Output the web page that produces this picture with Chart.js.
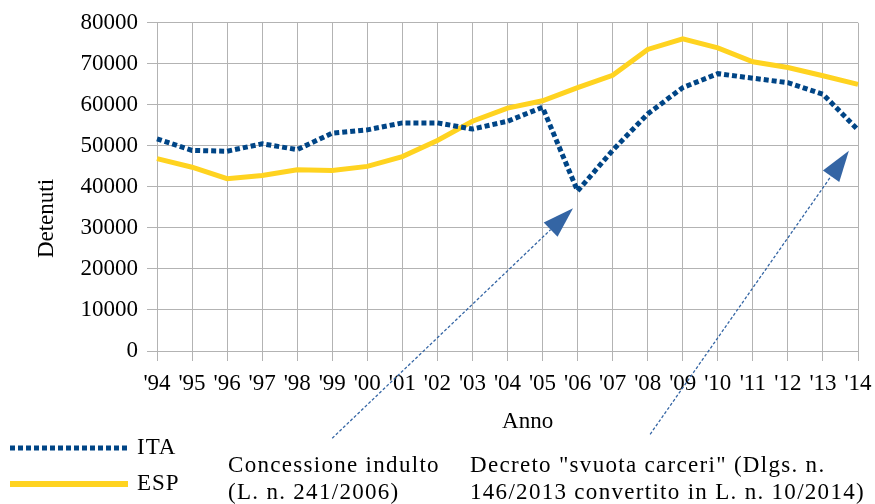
<!DOCTYPE html>
<html>
<head>
<meta charset="utf-8">
<script src="https://cdn.jsdelivr.net/npm/chart.js@4"></script>
<style>
  html, body { margin: 0; padding: 0; background: #fff; }
  #wrap { width: 875px; height: 504px; position: relative; }
</style>
</head>
<body>
<div id="wrap"><canvas id="myChart"></canvas></div>
<script>
const years = ["'94", "'95", "'96", "'97", "'98", "'99", "'00", "'01", "'02", "'03", "'04",
               "'05", "'06", "'07", "'08", "'09", "'10", "'11", "'12", "'13", "'14"];
const ita = [51700, 48900, 48700, 50500, 49100, 53100, 53900, 55600, 55600, 54100, 56000,
             59400, 39000, 48900, 57800, 64200, 67600, 66500, 65400, 62600, 53900];
const esp = [46900, 44800, 42000, 42800, 44200, 44000, 45000, 47400, 51300, 56000, 59200,
             61000, 64200, 67200, 73500, 76100, 73900, 70500, 69100, 67100, 65000];
const seriesNames = ["ITA", "ESP"];

// arrows: [x index, y value] for tail and tip
const arrowTails = [[5, -21250], [14.07, -20300]];
const arrowTips = [[11.87, 34800], [19.74, 48800]];
const noteLines = [
    ["Concessione indulto", "(L. n. 241/2006)"],
    ["Decreto \"svuota carceri\" (Dlgs. n.", "146/2013 convertito in L. n. 10/2014)"]
];

const serif = "'Liberation Serif', 'DejaVu Serif', serif";
const gridColor = "#b3b3b3";
const arrowColor = "#3465a4";
const nbsp = "\u00a0";

const extras = {
    id: "extras",
    afterDraw(chart) {
        const ctx = chart.ctx;
        const x = chart.scales.x, y = chart.scales.y;

        // annotation arrows
        ctx.save();
        for (let i = 0; i < arrowTails.length; i++) {
            const x0 = x.getPixelForValue(arrowTails[i][0]), y0 = y.getPixelForValue(arrowTails[i][1]);
            const x1 = x.getPixelForValue(arrowTips[i][0]), y1 = y.getPixelForValue(arrowTips[i][1]);
            const ang = Math.atan2(y1 - y0, x1 - x0);
            const len = 31, half = 10;
            const bx = x1 - Math.cos(ang) * len, by = y1 - Math.sin(ang) * len;
            ctx.strokeStyle = arrowColor;
            ctx.lineWidth = 1.3;
            ctx.setLineDash([3, 2]);
            ctx.beginPath();
            ctx.moveTo(x0, y0);
            ctx.lineTo(bx, by);
            ctx.stroke();
            ctx.setLineDash([]);
            ctx.fillStyle = arrowColor;
            ctx.beginPath();
            ctx.moveTo(x1, y1);
            ctx.lineTo(bx + Math.sin(ang) * half, by - Math.cos(ang) * half);
            ctx.lineTo(bx - Math.sin(ang) * half, by + Math.cos(ang) * half);
            ctx.closePath();
            ctx.fill();
        }

        // note texts
        ctx.fillStyle = "#000";
        ctx.font = "23px " + serif;
        ctx.letterSpacing = "1.3px";
        ctx.textAlign = "left";
        ctx.textBaseline = "middle";
        const noteX = [228, 470];
        noteLines.forEach((lines, i) => {
            lines.forEach((t, j) => ctx.fillText(t, noteX[i], 466 + j * 27));
        });

        // legend
        ctx.letterSpacing = "1px";
        chart.data.datasets.forEach((ds, i) => {
            const ly = 448 + i * 36;
            ctx.strokeStyle = ds.borderColor;
            ctx.lineWidth = ds.borderWidth + (i === 1 ? 1 : 0);
            ctx.setLineDash(ds.borderDash || []);
            ctx.lineCap = "butt";
            ctx.beginPath();
            ctx.moveTo(10, ly);
            ctx.lineTo(128, ly);
            ctx.stroke();
            ctx.setLineDash([]);
            ctx.fillText(ds.label, 137, ly);
        });
        ctx.restore();
    }
};

const chart = new Chart(document.getElementById("myChart"), {
    type: "line",
    data: {
        labels: years,
        datasets: [
            { label: seriesNames[0], data: ita, borderColor: "#004586", borderWidth: 5,
              borderDash: [5, 3], pointRadius: 0, tension: 0, borderCapStyle: "butt" },
            { label: seriesNames[1], data: esp, borderColor: "#ffd320", borderWidth: 5,
              pointRadius: 0, tension: 0 }
        ]
    },
    options: {
        responsive: true,
        maintainAspectRatio: false,
        animation: false,
        layout: { padding: { top: 18, right: 17, bottom: 68, left: 0 } },
        plugins: { legend: { display: false }, tooltip: { enabled: false } },
        scales: {
            x: {
                offset: false,
                grid: { color: gridColor, tickLength: 10, offset: false },
                border: { color: gridColor },
                ticks: { color: "#000", font: { family: serif, size: 23 }, padding: 9,
                         maxRotation: 0, autoSkip: false },
                title: { display: true, text: nbsp.repeat(7) + "Anno", color: "#000",
                         font: { family: serif, size: 23 }, padding: 0 },
                afterFit(scale) {
                    scale.height = 85;
                    scale.paddingLeft = 0;
                    scale.paddingRight = 0;
                }
            },
            y: {
                min: 0, max: 80000,
                grid: { color: gridColor, tickLength: 10 },
                border: { color: gridColor },
                ticks: { stepSize: 10000, color: "#000", font: { family: serif, size: 23 }, padding: 9,
                         callback: v => String(v) },
                title: { display: true, text: "Detenuti" + nbsp.repeat(11), color: "#000",
                         font: { family: serif, size: 23 }, padding: { top: 33 } },
                afterFit(scale) { scale.width = 157; }
            }
        }
    },
    plugins: [extras]
});
</script>
</body>
</html>
